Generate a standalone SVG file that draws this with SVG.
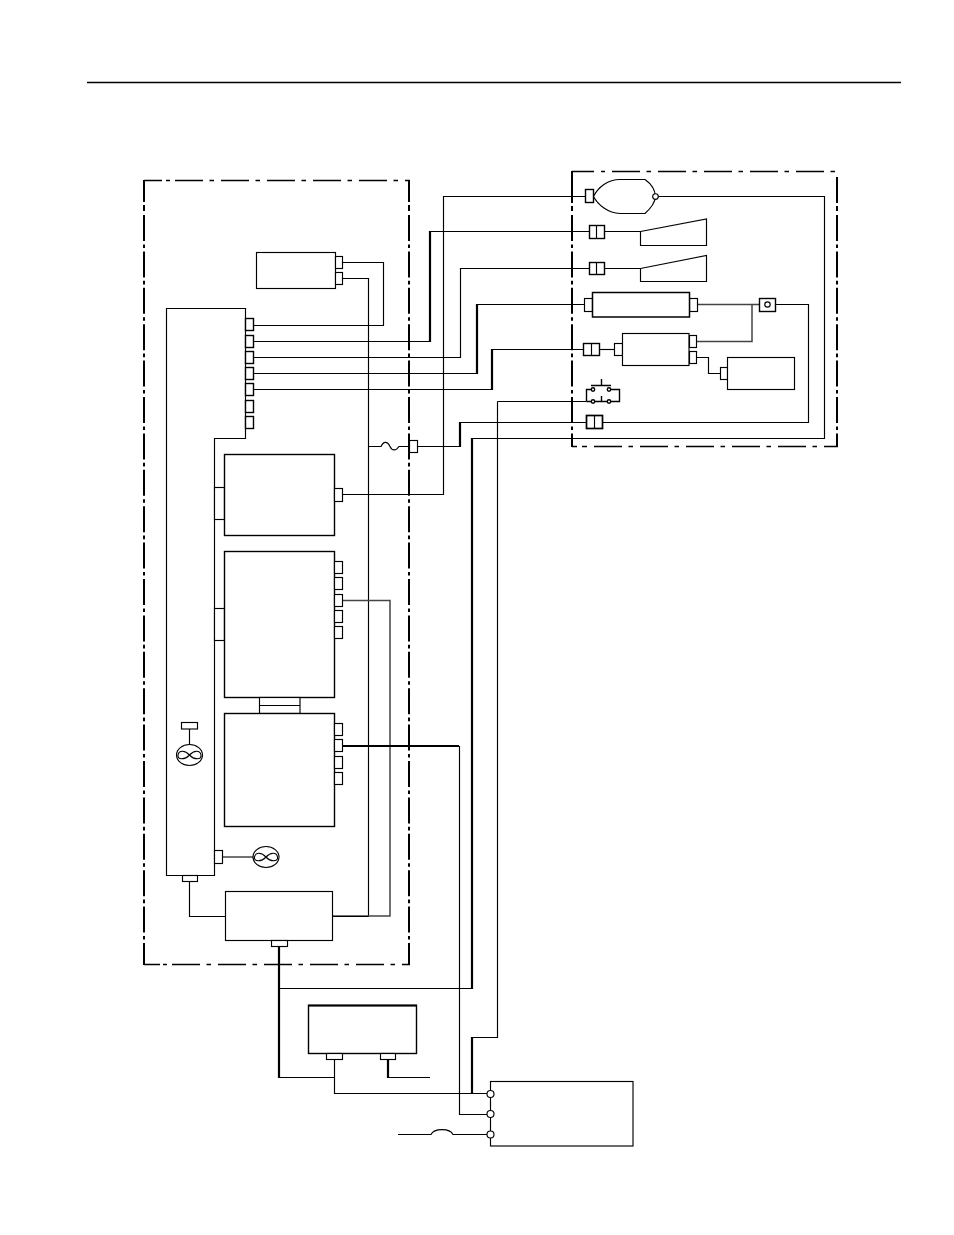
<svg xmlns="http://www.w3.org/2000/svg" width="954" height="1235" viewBox="0 0 954 1235">
<style>
rect,path,ellipse,circle{fill:#fff;stroke:#000;stroke-width:1.15}
.w{fill:none}
.t{fill:none;stroke-width:2.2}
.g{fill:none;stroke:#444;stroke-width:1.5}
.fh{fill:none;stroke-width:1.5}
.fv{fill:none;stroke-width:2}
.dh{fill:none;stroke-width:1.5;stroke-dasharray:28 6.500 4.500 7}
.dv{fill:none;stroke-width:2;stroke-dasharray:26 3.400 3.600 3.400}
.c{stroke-width:1.4}
.b{stroke-width:1.4}
</style>
<rect width="954" height="1235" style="fill:#fff;stroke:none"/>
<path id="rule" class="w" d="M87 82.500H901" style="stroke-width:1.3"/>
<g id="frames">
<path class="fh" d="M144 180.500H162M166 180.500H170M144 964.500H160M163 964.500H167M572 171.500H594M601 171.500H605M572 446.500H577M582 446.500H587"/>
<path class="dh" d="M175 180.500H410"/>
<path class="dh" d="M172 964.500H410"/>
<path class="dh" d="M612 171.500H838"/>
<path class="dh" d="M594 446.500H838"/>
<path class="fv" d="M144 180V202M144 205V211M409 180V202M409 205V211M572 171V203M572 206V211M837 177V203M837 206V211"/>
<path class="dv" d="M144 215V965"/>
<path class="dv" d="M409 215V965"/>
<path class="dv" d="M572 215V447"/>
<path class="dv" d="M837 215V447"/>
</g>
<g id="connectors">
<path class="w" d="M342.500 262.500H383.500V325.500H253.500"/>
<path class="w" d="M342.500 278.500H368.500V916.500"/>
<path class="w" d="M253.500 341.500H430"/>
<path class="t" d="M430 342V231"/>
<path class="w" d="M430 231.500H589.500"/>
<path class="w" d="M253.500 357.500H460.500V268.500H589.500"/>
<path class="w" d="M253.500 373.500H477"/>
<path class="t" d="M477 374V304"/>
<path class="w" d="M477 304.500H584.500"/>
<path class="w" d="M253.500 389.500H492"/>
<path class="t" d="M492 390V349"/>
<path class="w" d="M492 349.500H583.500"/>
<path class="w" d="M342.500 494.500H443.500V196.500H585.500"/>
<path class="w" d="M368.500 446.500H381C384 440 388 442 390 446.500S396 451 399 446.500H409"/>
<path class="w" d="M417.500 446.500H460"/>
<path class="t" d="M460 447V422"/>
<path class="w" d="M460 422.500H586.500"/>
<path class="w" d="M602.500 422.500H808.500V304.500H775.500"/>
<path class="g" d="M697.500 304.500H759.500"/>
<path class="g" d="M752 304.500V341.500H696.500"/>
<path class="w" d="M696.500 357.500H708.500V373.500H720.500"/>
<path class="w" d="M599.500 349.500H614.500"/>
<path class="w" d="M604.500 231.500H640.500M604.500 268.500H640.500"/>
<path class="w" d="M658 196.500H824.500V438.500H471"/>
<path class="t" d="M472 438V989"/>
<path class="w" d="M472 988.500H279"/>
<path class="t" d="M279 946V1078"/>
<path class="w" d="M279 1077.500H334.500M334.500 1059.500V1093.500H487"/>
<path class="t" d="M388 1059V1078"/>
<path class="w" d="M388 1077.500H430"/>
<path class="w" d="M497.500 401.500H586.500M497.500 401.500V1037.500H472"/>
<path class="t" d="M472 1037V1094"/>
<path class="g" d="M342.500 600.500H390V916H333"/>
<path class="t" d="M342.500 746H459"/>
<path class="w" d="M459.500 746V1114.500H487"/>
<path class="w" d="M333 916.500H368.500"/>
<path class="w" d="M189.500 881.500V916.500H225.500"/>
<path class="g" d="M222.500 857H254"/>
<path class="w" d="M398 1134.500H431C434 1128 450 1128 453 1134.500H487"/>
</g>
<g id="unit-a"><rect x="256.500" y="252.500" width="79" height="36"/><rect x="335.500" y="256.500" width="7" height="12"/><rect x="335.500" y="272.500" width="7" height="12"/></g>
<g id="main-board">
<path d="M166.500 308.500H245.500V438.500H214.500V875.500H166.500Z"/>
<rect class="c" x="245.500" y="318.500" width="8" height="12"/><rect class="c" x="245.500" y="335.500" width="8" height="12"/><rect class="c" x="245.500" y="351.500" width="8" height="12"/><rect class="c" x="245.500" y="367.500" width="8" height="12"/><rect class="c" x="245.500" y="383.500" width="8" height="12"/><rect class="c" x="245.500" y="400.500" width="8" height="12"/><rect class="c" x="245.500" y="416.500" width="8" height="12"/>
<rect x="214.500" y="850.500" width="8" height="13"/><rect x="182.500" y="875.500" width="15" height="6"/>
</g>
<g id="fuse-connector"><rect x="409.500" y="440.500" width="8" height="12"/></g>
<g id="unit-b"><rect x="214.500" y="487.500" width="10" height="32"/><rect class="b" x="224.500" y="454.500" width="110" height="81"/><rect x="334.500" y="488.500" width="8" height="13"/></g>
<g id="unit-c"><rect x="214.500" y="608.500" width="10" height="32"/><rect class="b" x="224.500" y="551.500" width="110" height="146"/><rect x="334.500" y="561.500" width="8" height="12"/><rect x="334.500" y="577.500" width="8" height="12"/><rect x="334.500" y="594.500" width="8" height="12"/><rect x="334.500" y="610.500" width="8" height="12"/><rect x="334.500" y="626.500" width="8" height="12"/></g>
<g id="bridge"><rect x="259.500" y="697.500" width="40.500" height="16"/><path class="w" d="M259.500 705.500H300"/></g>
<g id="unit-d"><rect class="b" x="224.500" y="713.500" width="110" height="113"/><rect x="334.500" y="723.500" width="8" height="12"/><rect x="334.500" y="739.500" width="8" height="12"/><rect x="334.500" y="756.500" width="8" height="12"/><rect x="334.500" y="772.500" width="8" height="12"/></g>
<g id="fan-1"><rect x="181.500" y="722.500" width="16" height="6.500"/><path class="w" d="M189.500 729V744"/><ellipse cx="189.500" cy="755" rx="13" ry="10.500"/><path class="w" d="M189.500 755C185 750 179 750 178 755S185 760 189.500 755C194 750 200 750 201 755S194 760 189.500 755Z"/></g>
<g id="fan-2"><ellipse cx="266" cy="857" rx="13" ry="10.500"/><path class="w" d="M266 857C261.500 852 255.500 852 254.500 857S261.500 862 266 857C270.500 852 276.500 852 277.500 857S270.500 862 266 857Z"/></g>
<g id="unit-e"><rect x="225.500" y="891.500" width="107" height="49"/><rect x="271.500" y="940.500" width="16" height="6"/></g>
<g id="unit-f"><rect class="b" x="308.500" y="1005.500" width="108" height="48"/><path class="w" d="M308 1005.500H417" style="stroke-width:2"/><rect x="326.500" y="1053.500" width="16" height="6"/><rect x="380.500" y="1053.500" width="15" height="6"/></g>
<g id="unit-g"><rect x="490.500" y="1081.500" width="142.500" height="64.500"/><circle cx="490.500" cy="1094" r="3.500"/><circle cx="490.500" cy="1114" r="3.500"/><circle cx="490.500" cy="1134.500" r="3.500"/></g>
<g id="bulb"><rect class="c" x="585.500" y="189.500" width="8" height="13"/><path d="M593.500 196.500C598 187 608 179.500 620 179.500H645C650 183 655 189 655.500 196.500C655 203 650 209 645 213.500H620C608 213 598 205 593.500 196.500Z"/><circle cx="655.500" cy="196.500" r="2.800"/></g>
<g id="clutch-1"><rect class="c" x="589.500" y="225.500" width="15" height="13"/><path class="w" d="M596.500 225.500V238.500"/></g>
<g id="wedge-1"><path d="M640.500 231.500L706.500 219V245.500H640.500Z"/></g>
<g id="clutch-2"><rect class="c" x="589.500" y="262.500" width="15" height="12"/><path class="w" d="M596.500 262.500V274.500"/></g>
<g id="wedge-2"><path d="M640.500 268.500L706.500 255.500V281.500H640.500Z"/></g>
<g id="tube"><rect x="584.500" y="298.500" width="8" height="13"/><rect x="689.500" y="298.500" width="8" height="13"/><rect x="592.500" y="292.500" width="97" height="24.500" style="stroke-width:1.5"/></g>
<g id="sensor"><rect class="c" x="759.500" y="298.500" width="16" height="13"/><circle cx="767.500" cy="304.500" r="2.700"/></g>
<g id="unit-h"><rect x="614.500" y="343.500" width="8" height="12"/><rect x="622.500" y="333.500" width="66.500" height="32"/><rect x="689.500" y="335.500" width="7" height="12"/><rect x="689.500" y="351.500" width="7" height="12"/></g>
<g id="unit-i"><rect x="720.500" y="367.500" width="7" height="12"/><rect x="727.500" y="357.500" width="67" height="32"/></g>
<g id="clutch-3"><rect class="c" x="583.500" y="343.500" width="16" height="12"/><path class="w" d="M591.500 343.500V355.500"/></g>
<g id="switch"><path class="w" style="stroke-width:1.4" d="M601.500 379V385M591 385.500H611M586.500 401.500V389.500H592M610 389.500H619.500V401.500H586.500M601.500 396V401.500"/><circle class="c" cx="593" cy="389.500" r="1.700"/><circle class="c" cx="609" cy="389.500" r="1.700"/><circle class="c" cx="593" cy="401.500" r="1.700"/><circle class="c" cx="609" cy="401.500" r="1.700"/></g>
<g id="clutch-4"><rect class="c" x="586.500" y="415.500" width="16" height="13" style="stroke-width:1.7"/><path class="w" d="M594.500 415.500V428.500"/></g>
</svg>
